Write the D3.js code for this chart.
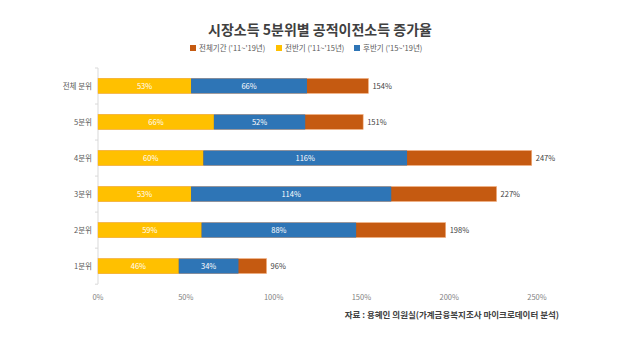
<!DOCTYPE html>
<html>
<head>
<meta charset="utf-8">
<script src="https://cdn.jsdelivr.net/npm/d3@7"></script>
<style>
  body { margin: 0; background: #fff; }
  svg { font-family: "Noto Sans CJK KR", "Noto Sans", sans-serif; }
</style>
</head>
<body>
<div id="chart"></div>
<script>
// data
const categories = ['전체 분위', '5분위', '4분위', '3분위', '2분위', '1분위'];
const firstHalf = [53, 66, 60, 53, 59, 46];     // 전반기 ('11~'15년)
const secondHalf = [66, 52, 116, 114, 88, 34];  // 후반기 ('15~'19년)
const wholePeriod = [154, 151, 247, 227, 198, 96]; // 전체기간 ('11~'19년)
const xTicks = [0, 50, 100, 150, 200, 250];

const colors = { whole: '#C55A11', first: '#FFC000', second: '#2E75B6' };

const width = 640, height = 361;
const margin = { left: 98, right: 640 - 537, top: 68, bottom: 361 - 284 };

const svg = d3.select('#chart').append('svg')
    .attr('width', width)
    .attr('height', height);

svg.append('text')
    .attr('x', 320)
    .attr('y', 35)
    .attr('text-anchor', 'middle')
    .attr('font-size', 14)
    .attr('font-weight', 'bold')
    .attr('fill', '#404040')
    .text('시장소득 5분위별 공적이전소득 증가율');

// legend
const legend = [
  { label: "전체기간 ('11~'19년)", color: colors.whole, x: 190 },
  { label: "전반기 ('11~'15년)", color: colors.first, x: 276 },
  { label: "후반기 ('15~'19년)", color: colors.second, x: 354 }
];
const lg = svg.append('g').selectAll('g')
    .data(legend)
  .enter().append('g')
    .attr('transform', (d) => `translate(${d.x},48)`);
lg.append('rect')
    .attr('x', 0).attr('y', -3)
    .attr('width', 6).attr('height', 6)
    .attr('fill', (d) => d.color);
lg.append('text')
    .attr('x', 9)
    .attr('dy', '0.35em')
    .attr('font-size', 7.5)
    .attr('fill', '#595959')
    .text((d) => d.label);

const x = d3.scaleLinear()
    .domain([0, 250])
    .range([margin.left, width - margin.right]);

const y = d3.scaleBand()
    .domain(categories)
    .range([margin.top, height - margin.bottom])
    .paddingInner(0.585)
    .paddingOuter(0.29);

// y axis line with ticks between categories
const yAxisG = svg.append('g');
yAxisG.append('line')
    .attr('x1', margin.left).attr('x2', margin.left)
    .attr('y1', margin.top).attr('y2', height - margin.bottom)
    .attr('stroke', '#d9d9d9');
const step = y.step();
const bounds = d3.range(categories.length + 1).map((i) => margin.top + i * step);
yAxisG.selectAll('.tick')
    .data(bounds)
  .enter().append('line')
    .attr('x1', margin.left - 3).attr('x2', margin.left)
    .attr('y1', (d) => d).attr('y2', (d) => d)
    .attr('stroke', '#d9d9d9');

yAxisG.selectAll('.cat')
    .data(categories)
  .enter().append('text')
    .attr('x', margin.left - 6)
    .attr('y', (d) => y(d) + y.bandwidth() / 2)
    .attr('dy', '0.35em')
    .attr('text-anchor', 'end')
    .attr('font-size', 7.5)
    .attr('fill', '#595959')
    .text((d) => d);

// x tick labels
svg.append('g').selectAll('text')
    .data(xTicks)
  .enter().append('text')
    .attr('x', (d) => x(d))
    .attr('y', 297)
    .attr('dy', '0.35em')
    .attr('text-anchor', 'middle')
    .attr('font-size', 7.5)
    .attr('fill', '#7f7f7f')
    .text((d) => `${d}%`);

const rows = categories.map((c, i) => ({
  cat: c, first: firstHalf[i], second: secondHalf[i], whole: wholePeriod[i]
}));

const bars = svg.append('g').selectAll('g')
    .data(rows)
  .enter().append('g');

bars.append('rect')
    .attr('x', x(0))
    .attr('y', (d) => y(d.cat))
    .attr('width', (d) => x(d.whole) - x(0))
    .attr('height', y.bandwidth())
    .attr('fill', colors.whole)
    .attr('stroke', '#f4b183')
    .attr('stroke-width', 0.6);

bars.append('rect')
    .attr('x', x(0))
    .attr('y', (d) => y(d.cat))
    .attr('width', (d) => x(d.first) - x(0))
    .attr('height', y.bandwidth())
    .attr('fill', colors.first);

bars.append('rect')
    .attr('x', (d) => x(d.first))
    .attr('y', (d) => y(d.cat))
    .attr('width', (d) => x(d.first + d.second) - x(d.first))
    .attr('height', y.bandwidth())
    .attr('fill', colors.second);

bars.append('text')
    .attr('x', (d) => x(d.first / 2))
    .attr('y', (d) => y(d.cat) + y.bandwidth() / 2)
    .attr('dy', '0.35em')
    .attr('text-anchor', 'middle')
    .attr('font-size', 7.5)
    .attr('fill', '#fff')
    .text((d) => `${d.first}%`);

bars.append('text')
    .attr('x', (d) => x(d.first + d.second / 2))
    .attr('y', (d) => y(d.cat) + y.bandwidth() / 2)
    .attr('dy', '0.35em')
    .attr('text-anchor', 'middle')
    .attr('font-size', 7.5)
    .attr('fill', '#fff')
    .text((d) => `${d.second}%`);

bars.append('text')
    .attr('x', (d) => x(d.whole) + 4)
    .attr('y', (d) => y(d.cat) + y.bandwidth() / 2)
    .attr('dy', '0.35em')
    .attr('font-size', 7.5)
    .attr('fill', '#404040')
    .text((d) => `${d.whole}%`);

svg.append('text')
    .attr('x', 559)
    .attr('y', 315)
    .attr('dy', '0.35em')
    .attr('text-anchor', 'end')
    .attr('font-size', 8.5)
    .attr('font-weight', 'bold')
    .attr('fill', '#404040')
    .text('자료 : 용혜인 의원실(가계금융복지조사 마이크로데이터 분석)');
</script>
</body>
</html>
